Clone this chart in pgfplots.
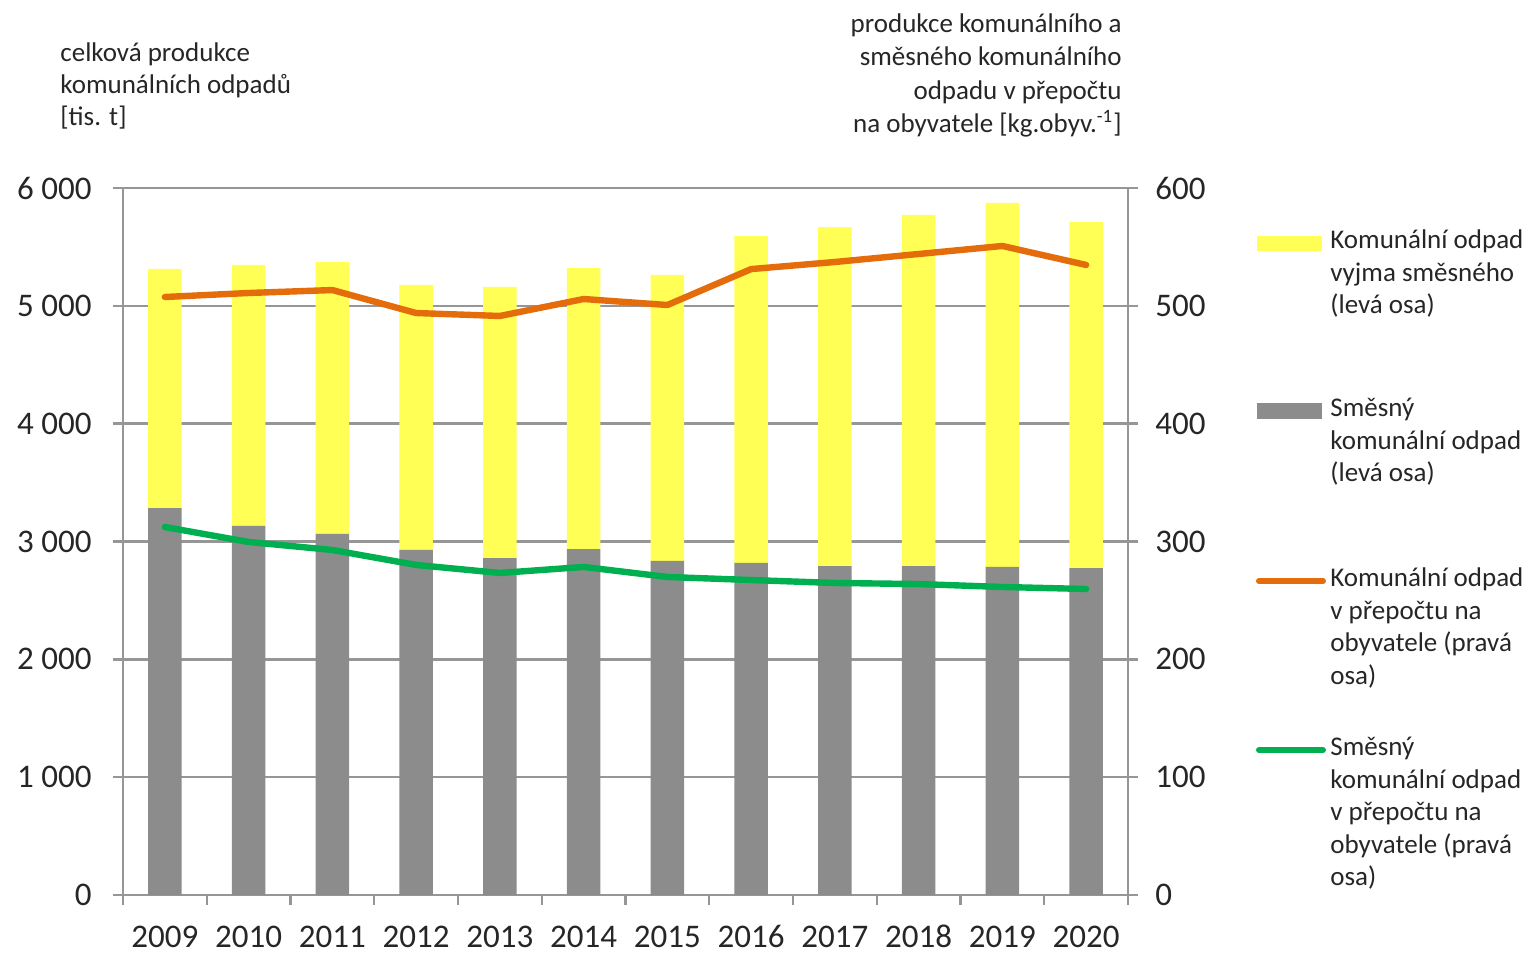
\documentclass[border=0pt]{standalone}
\usepackage{pgfplots}
\pgfplotsset{compat=1.18}
\usepackage{fontspec}
\setmainfont{Carlito}
\definecolor{cyel}{HTML}{FFFF55}
\definecolor{cgray}{HTML}{8C8C8C}
\definecolor{corange}{HTML}{E46C0A}
\definecolor{cgreen}{HTML}{00B050}
\definecolor{cgrid}{HTML}{969696}
\definecolor{ctext}{HTML}{262626}
\newcommand{\tfont}{\fontsize{13.5}{16.25}\selectfont}
\newcommand{\kfont}{\fontsize{16.5}{20}\selectfont}
\newcommand{\LW}[3]{\node[anchor=base west,inner sep=0pt,font=\tfont,text=ctext] at (#1pt,#2pt) {#3};}
\newcommand{\LE}[3]{\node[anchor=base east,inner sep=0pt,font=\tfont,text=ctext] at (#1pt,#2pt) {#3};}
\begin{document}
\begin{tikzpicture}
\path[use as bounding box] (-61.5pt,-29.5pt) rectangle (702.5pt,447.5pt);
\begin{axis}[
  at={(0pt,0pt)}, anchor=south west, scale only axis,
  width=502.5pt, height=353.5pt,
  xmin=-0.5, xmax=11.5, ymin=0, ymax=6000,
  ybar stacked, bar width=16.7pt,
  axis line style={cgrid, line width=1.2pt},
  xtick={-0.5,0.5,...,11.5}, xticklabels={},
  extra x ticks={0,1,...,11},
  extra x tick labels={2009,2010,2011,2012,2013,2014,2015,2016,2017,2018,2019,2020},
  extra x tick style={major tick length=0pt},
  xticklabel style={anchor=base, inner sep=0pt, yshift=-26.3pt},
  ytick={0,1000,...,6000},
  ytick pos=left, xtick pos=bottom,
  tick align=outside, major tick length=5pt,
  tick style={cgrid, line width=1.2pt},
  ymajorgrids, grid style={cgrid, line width=1.2pt},
  yticklabel style={anchor=east, inner sep=0pt, xshift=-10.5pt},
  tick label style={font=\kfont, text=ctext},
  /pgf/number format/assume math mode=true,
  /pgf/number format/1000 sep={\ },
  axis on top=false,
]
\addplot[fill=cgray, draw=none] coordinates {(0,3284) (1,3132) (2,3064) (3,2928) (4,2860) (5,2936) (6,2835) (7,2818) (8,2792) (9,2792) (10,2784) (11,2775)};
\addplot[fill=cyel, draw=none] coordinates {(0,2029) (1,2215) (2,2308) (3,2249) (4,2300) (5,2385) (6,2427) (7,2775) (8,2877) (9,2979) (10,3089) (11,2936)};
\end{axis}
\begin{axis}[
  at={(0pt,0pt)}, anchor=south west, scale only axis,
  width=502.5pt, height=353.5pt,
  xmin=-0.5, xmax=11.5, ymin=0, ymax=600,
  axis x line=none, axis y line*=right,
  y axis line style={-, cgrid, line width=1.2pt},
  ytick={0,100,...,600},
  tick align=outside, major tick length=5pt,
  tick style={cgrid, line width=1.2pt},
  yticklabel style={anchor=west, inner sep=0pt, xshift=8.5pt},
  tick label style={font=\kfont, text=ctext},
  /pgf/number format/assume math mode=true,
]
\addplot[corange, line width=3.2pt, line join=round, line cap=round, mark=none] coordinates {(0,507.5) (1,510.9) (2,513.4) (3,493.9) (4,491.4) (5,505.8) (6,500.7) (7,531.2) (8,537.2) (9,544.0) (10,550.8) (11,534.7)};
\addplot[cgreen, line width=3.2pt, line join=round, line cap=round, mark=none] coordinates {(0,312.3) (1,299.6) (2,292.8) (3,280.1) (4,273.3) (5,278.4) (6,269.9) (7,267.3) (8,264.8) (9,263.9) (10,261.4) (11,259.7)};
\end{axis}
% axis titles
\LW{-31.5}{416.5}{celková produkce}
\LW{-31.5}{400.5}{komunálních odpadů}
\LW{-31.5}{384.5}{[tis. t]}
\LE{499.5}{431}{produkce komunálního a}
\LE{499.5}{414.5}{směsného komunálního}
\LE{499.5}{397.5}{odpadu v přepočtu}
\LE{499.5}{381}{na obyvatele [kg.obyv.\textsuperscript{-1}]}
% legend
\fill[cyel] (567pt,322pt) rectangle (599.5pt,329.5pt);
\LW{603.5}{323}{Komunální odpad}
\LW{603.5}{306.75}{vyjma směsného}
\LW{603.5}{290.5}{(levá osa)}
\fill[cgray] (567pt,238pt) rectangle (599.5pt,246pt);
\LW{603.5}{239}{Směsný}
\LW{603.5}{222.75}{komunální odpad}
\LW{603.5}{206.5}{(levá osa)}
\draw[corange, line width=3pt, line cap=round] (568pt,157pt) -- (600pt,157pt);
\LW{603.5}{154}{Komunální odpad}
\LW{603.5}{137.75}{v přepočtu na}
\LW{603.5}{121.5}{obyvatele (pravá}
\LW{603.5}{105.25}{osa)}
\draw[cgreen, line width=3pt, line cap=round] (568pt,72.5pt) -- (600pt,72.5pt);
\LW{603.5}{69.5}{Směsný}
\LW{603.5}{53.25}{komunální odpad}
\LW{603.5}{37}{v přepočtu na}
\LW{603.5}{20.75}{obyvatele (pravá}
\LW{603.5}{4.5}{osa)}
\end{tikzpicture}
\end{document}
